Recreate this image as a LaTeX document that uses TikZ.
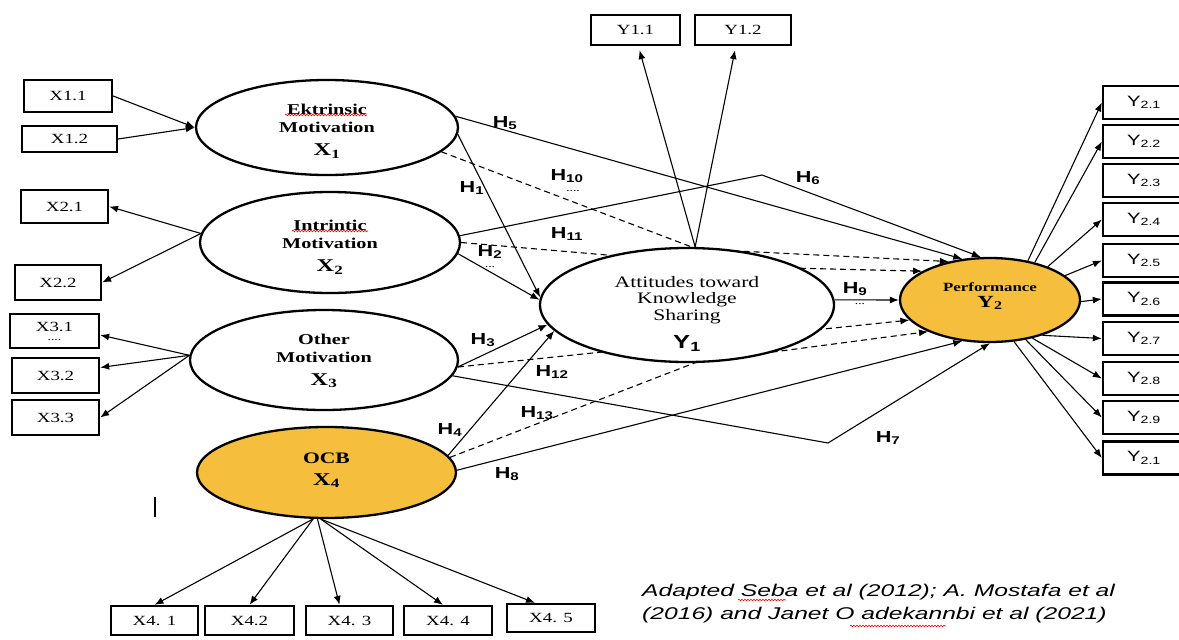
\documentclass[tikz,border=0pt]{standalone}
\usepackage{fontspec}
\setmainfont{Liberation Serif}[FakeStretch=1.35]
\setsansfont{Liberation Sans}[FakeStretch=1.35]
\newfontfamily\citefont{Liberation Sans}[FakeStretch=1.45]
\usetikzlibrary{arrows.meta,shapes.geometric,decorations.pathmorphing,backgrounds}
\definecolor{ocb}{RGB}{245,190,61}
\begin{document}
\begin{tikzpicture}[x=1pt,y=-1pt,
  lat/.style={ellipse, draw, line width=2.3pt, fill=white, inner sep=0pt},
  ltxt/.style={align=center, inner sep=0pt, font=\bfseries\fontsize{15}{18}\selectfont},
  box/.style={draw, line width=2.3pt, inner sep=0pt, font=\fontsize{14}{16}\selectfont},
  rbox/.style={box, minimum width=82pt, minimum height=33pt, font=\sffamily\fontsize{15}{17}\selectfont},
  arr/.style={-{Latex[length=9pt,width=7pt]}, line width=1.1pt},
  dsh/.style={arr, dash pattern=on 6pt off 4pt},
  hl/.style={font=\sffamily\bfseries\fontsize{16}{16}\selectfont, inner sep=0pt},
  dots/.style={font=\fontsize{10}{10}\selectfont, inner sep=0pt},
  squig/.style={red, line width=0.6pt, decorate, decoration={snake, amplitude=0.8pt, segment length=3pt}},
]
\useasboundingbox (0,0) rectangle (1179,640);

% corner points of bent connectors
\coordinate (c6) at (762,175);
\coordinate (c7) at (828,443);
\coordinate (c10) at (697,249);
\coordinate (c11a) at (630,257);
\coordinate (c11b) at (790,268);
\coordinate (c13) at (697,362);

% latent variables
\node[lat, minimum width=262pt, minimum height=95pt] (X1) at (327,127.5) {};
\node[lat, minimum width=260pt, minimum height=101pt] (X2) at (330,242.5) {};
\node[lat, minimum width=268pt, minimum height=100pt] (X3) at (324,360) {};
\node[lat, fill=ocb, minimum width=259pt, minimum height=91pt] (X4) at (326.5,472.5) {};
\node[lat, minimum width=294pt, minimum height=114pt] (Y1) at (687,305) {};
\node[lat, fill=ocb, minimum width=180pt, minimum height=84pt] (Y2) at (990,300) {};

\node[ltxt] (X1t) at (327,131) {Ektrinsic\\Motivation\\[5pt]{\fontsize{18}{20}\selectfont X\textsubscript{1}}};
\node[ltxt] (X2t) at (330,247) {Intrintic\\Motivation\\[5pt]{\fontsize{18}{20}\selectfont X\textsubscript{2}}};
\node[ltxt] (X3t) at (324,361) {Other\\Motivation\\[5pt]{\fontsize{18}{20}\selectfont X\textsubscript{3}}};
\node[ltxt, font=\bfseries\fontsize{16}{18}\selectfont] (X4t) at (326.5,470) {OCB\\[4pt]{\fontsize{18}{20}\selectfont X\textsubscript{4}}};
\node[ltxt, font=\fontsize{16}{16.5}\selectfont] (Y1t) at (687,314) {Attitudes toward\\Knowledge\\Sharing\\[11pt]{\sffamily\bfseries\fontsize{19}{20}\selectfont Y\textsubscript{1}}};
\node[ltxt, font=\bfseries\fontsize{12.5}{15}\selectfont] (Y2t) at (990,296) {Performance\\[1pt]{\fontsize{17}{20}\selectfont Y\textsubscript{2}}};

% indicator boxes left
\node[box, minimum width=88pt, minimum height=32pt] (X11) at (68,96) {X1.1};
\node[box, minimum width=95pt, minimum height=26pt] (X12) at (69.5,139) {X1.2};
\node[box, minimum width=87pt, minimum height=33pt] (X21) at (64.5,206.5) {X2.1};
\node[box, minimum width=86pt, minimum height=35pt] (X22) at (58,282.5) {X2.2};
\node[box, align=center, minimum width=89pt, minimum height=34pt] (X31) at (54.5,331) {X3.1\\[-7pt]{\fontsize{10}{10}\selectfont ....}};
\node[box, minimum width=87pt, minimum height=35pt] (X32) at (55.5,375.5) {X3.2};
\node[box, minimum width=87pt, minimum height=35pt] (X33) at (55.5,417.5) {X3.3};

% indicator boxes top
\node[box, minimum width=89pt, minimum height=30pt] (Y11) at (635.5,30) {Y1.1};
\node[box, minimum width=96pt, minimum height=30pt] (Y12) at (743,30) {Y1.2};

% indicator boxes bottom
\node[box, minimum width=87pt, minimum height=29pt] (X41) at (154.5,620.5) {X4. 1};
\node[box, minimum width=89pt, minimum height=29pt] (X42) at (249.5,620.5) {X4.2};
\node[box, minimum width=87pt, minimum height=29pt] (X43) at (349.5,620.5) {X4. 3};
\node[box, minimum width=88pt, minimum height=29pt] (X44) at (448,620.5) {X4. 4};
\node[box, minimum width=88pt, minimum height=28pt] (X45) at (551,618) {X4. 5};

% indicator boxes right
\foreach \i/\y/\t in {1/102.5/2.1, 2/141.5/2.2, 3/180.5/2.3, 4/219.5/2.4, 5/260.5/2.5, 6/299/2.6, 7/338.5/2.7, 8/378.5/2.8, 9/417.5/2.9, 10/458/2.1}
  \node[rbox] (R\i) at (1144,\y) {Y\textsubscript{\t}};

% dashed mediation paths, under the ellipses
\begin{scope}[on background layer]
\fill[white] (0,0) rectangle (1179,640);
\draw[dsh] (X1.-12) -- (c10) -- (Y2.137);
\draw[dsh] (X2.0) -- (c11a) -- (c11b) -- (Y2.157);
\draw[dsh] (X3.-3) -- (Y2.194);
\draw[dsh] (X4.7) -- (c13) -- (Y2.207);
\end{scope}

% measurement arrows
\draw[arr] (X11.east) -- (X1.west);
\draw[arr] (X12.east) -- (X1.west);
\draw[arr] (X2.176) -- (X21.east);
\draw[arr] (X2.176) -- (X22.east);
\draw[arr] (X3.178) -- ([yshift=-4pt]X31.east);
\draw[arr] (X3.178) -- ([yshift=8pt]X32.east);
\draw[arr] (X3.178) -- (X33.east);
\draw[arr] (X4.-106) -- (X41.north);
\draw[arr] (X4.-106) -- (X42.north);
\draw[arr] (X4.-101) -- ([xshift=-10pt]X43.north);
\draw[arr] (X4.-97) -- ([xshift=-5pt]X44.north);
\draw[arr] (X4.-97) -- ([xshift=-16pt]X45.north);
\draw[arr] (Y1.82) -- ([xshift=4pt,yshift=-4pt]Y11.south);
\draw[arr] (Y1.82) -- ([xshift=-8pt,yshift=-4pt]Y12.south);
\foreach \i/\a in {1/46,2/40,4/30,5/18,6/-1,7/-34,8/-42,9/-48,10/-60}
  \draw[arr] (Y2.\a) -- (R\i.west);

% structural paths
\draw[arr] (X1.-3) -- (Y1.177);
\draw[arr] (X2.-5) -- (Y1.178);
\draw[arr] (X3.-3) -- (Y1.188);
\draw[arr] (X4.8) -- (Y1.191);
\draw[arr] (X1.5) -- (Y2.124);
\draw[arr] (X2.3) -- (c6) -- (Y2.102);
\draw[arr] (X3.-7) -- (c7) -- (Y2.270);
\draw[arr] (X4.1) -- (Y2.236);
\draw[arr] (Y1.2) -- (Y2.west);

% hypothesis labels
\node[hl] (H1) at (472,188) {H\textsubscript{1}};
\node[hl] (H2) at (490,252) {H\textsubscript{2}};
\node[dots] (H2d) at (490,267) {...};
\node[hl] (H3) at (483,340) {H\textsubscript{3}};
\node[hl] (H4) at (450,430) {H\textsubscript{4}};
\node[hl] (H5) at (505,123) {H\textsubscript{5}};
\node[hl] (H6) at (808,178) {H\textsubscript{6}};
\node[hl] (H7) at (888,438) {H\textsubscript{7}};
\node[hl] (H8) at (507,474) {H\textsubscript{8}};
\node[hl] (H9) at (855,289) {H\textsubscript{9}};
\node[dots] (H9d) at (860,304) {...};
\node[hl] (H10) at (567,176) {H\textsubscript{10}};
\node[dots] (H10d) at (573,191) {....};
\node[hl] (H11) at (567,234) {H\textsubscript{11}};
\node[hl] (H12) at (552,372) {H\textsubscript{12}};
\node[hl] (H13) at (537,413) {H\textsubscript{13}};

% stray bar
\draw[line width=1.5pt] (155,497) -- (155,517);

% citation
\node[anchor=north west, inner sep=0pt, align=left, font=\citefont\itshape\fontsize{17}{23}\selectfont] (cite) at (642,584) {Adapted Seba et al (2012); A. Mostafa et al\\(2016) and Janet O adekannbi et al (2021)};

% spell-check marks
\draw[squig] (285,115) -- (367,115);
\draw[squig] (292,231) -- (368,231);
\draw[squig] (738,600) -- (786,600);
\draw[squig] (850,626) -- (946,626);
\end{tikzpicture}
\end{document}
